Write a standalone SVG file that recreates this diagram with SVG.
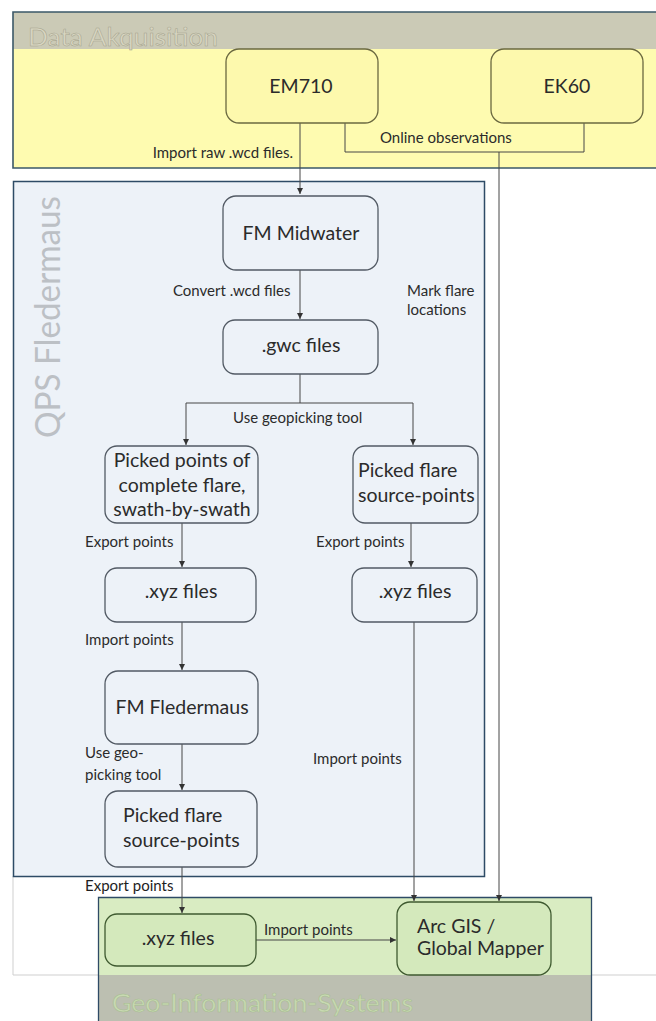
<svg xmlns="http://www.w3.org/2000/svg" width="656" height="1021" viewBox="0 0 656 1021">
<defs>
<style>
.t{font-family:Lato,"Open Sans","Liberation Sans",sans-serif;fill:#2b2b2b;font-size:19.5px}
.m{text-anchor:middle}
.e{text-anchor:end}
.lbl{font-size:15px}
.box{fill:#edf2f8;stroke:#525a64;stroke-width:1.3}
.ybox{fill:#fdf9ad;stroke:#6b6940;stroke-width:1.3}
.gbox{fill:#d4e9bc;stroke:#3f5a30;stroke-width:1.3}
.c{stroke:#474747;stroke-width:1;fill:none}
.title{font-family:Lato,"Open Sans","Liberation Sans",sans-serif;font-size:25px;stroke-width:0.5}
</style>
<marker id="ah" markerUnits="userSpaceOnUse" markerWidth="7" markerHeight="6" refX="6" refY="3" orient="auto">
<path d="M0,0 L6,3 L0,6 z" fill="#333"/>
</marker>
</defs>

<g id="page-frame">
<path d="M13,876 V975 H656" fill="none" stroke="#cfcfcf" stroke-width="1"/>
</g>

<g id="data-akquisition">
<rect x="13" y="12" width="650" height="37" fill="#cbcab6"/>
<rect x="13" y="49" width="650" height="119" fill="#fefbb0"/>
<path d="M656,12 H13 V168 H656" fill="none" stroke="#3b5868" stroke-width="1.6"/>
<text class="title" x="28" y="46" textLength="190" lengthAdjust="spacingAndGlyphs" fill="#d8d6c2" stroke="#a4a28c">Data Akquisition</text>
</g>

<g id="qps-fledermaus">
<rect x="13.5" y="181.5" width="471" height="695" fill="#edf2f8" stroke="#2e4b66" stroke-width="1.5"/>
<text class="title" transform="translate(60,438) rotate(-90)" textLength="242" lengthAdjust="spacingAndGlyphs" fill="#bcc0c5" stroke="none" style="font-size:34px">QPS Fledermaus</text>
</g>

<g id="geo-information-systems">
<rect x="98" y="897" width="494" height="78" fill="#d9ecc2"/>
<rect x="98" y="975" width="494" height="46" fill="#bcbfb1"/>
<path d="M98.5,1021 V897.5 H591.5 V1021" fill="none" stroke="#2e4b66" stroke-width="1.3"/>
<text class="title" x="112" y="1012" textLength="301" lengthAdjust="spacingAndGlyphs" fill="#c8d9b2" stroke="#a6bd90">Geo-Information-Systems</text>
</g>

<g id="connectors">
<path class="c" d="M300,123 V194" marker-end="url(#ah)"/>
<path class="c" d="M300,270 V319" marker-end="url(#ah)"/>
<path class="c" d="M300,374 V403 M186,403 H413"/>
<path class="c" d="M186,403 V445" marker-end="url(#ah)"/>
<path class="c" d="M413,403 V445" marker-end="url(#ah)"/>
<path class="c" d="M182,523 V567" marker-end="url(#ah)"/>
<path class="c" d="M411,523 V567" marker-end="url(#ah)"/>
<path class="c" d="M182,622 V670" marker-end="url(#ah)"/>
<path class="c" d="M182,744 V790" marker-end="url(#ah)"/>
<path class="c" d="M182,867 V913" marker-end="url(#ah)"/>
<path class="c" d="M256,940 H396" marker-end="url(#ah)"/>
<path class="c" d="M414,622 V901" stroke="#6a6a6a" marker-end="url(#ah)"/>
<path class="c" d="M345,123 V152 H584 V123" stroke="#b4b288"/>
<path class="c" d="M499,152 V901" stroke="#8a8a8a" marker-end="url(#ah)"/>
<text class="t lbl e" x="293" y="158">Import raw .wcd files.</text>
<text class="t lbl" x="380" y="143">Online observations</text>
<text class="t lbl" x="173" y="296">Convert .wcd files</text>
<text class="t lbl" x="407" y="296">Mark flare</text>
<text class="t lbl" x="407" y="315">locations</text>
<text class="t lbl" x="233" y="423">Use geopicking tool</text>
<text class="t lbl" x="85" y="547">Export points</text>
<text class="t lbl" x="316" y="547">Export points</text>
<text class="t lbl" x="85" y="645">Import points</text>
<text class="t lbl" x="85" y="758">Use geo-</text>
<text class="t lbl" x="85" y="780">picking tool</text>
<text class="t lbl" x="313" y="764">Import points</text>
<text class="t lbl" x="85" y="891" style="fill:#1e1e1e">Export points</text>
<text class="t lbl" x="264" y="935">Import points</text>
</g>

<g id="em710">
<rect class="ybox" x="226" y="49" width="152" height="74" rx="13"/>
<text class="t m" x="301" y="93">EM710</text>
</g>
<g id="ek60">
<rect class="ybox" x="491" y="49" width="152" height="74" rx="13"/>
<text class="t m" x="567" y="93">EK60</text>
</g>
<g id="fm-midwater">
<rect class="box" x="223" y="196" width="155" height="74" rx="13"/>
<text class="t m" x="301" y="240">FM Midwater</text>
</g>
<g id="gwc-files">
<rect class="box" x="223" y="320" width="155" height="54" rx="12"/>
<text class="t m" x="301" y="352">.gwc files</text>
</g>
<g id="picked-points-complete">
<rect class="box" x="105" y="446" width="153" height="77" rx="12"/>
<text class="t m" x="182" y="467">Picked points of</text>
<text class="t m" x="182" y="492">complete flare,</text>
<text class="t m" x="182" y="516">swath-by-swath</text>
</g>
<g id="picked-flare-source-1">
<rect class="box" x="353" y="446" width="125" height="77" rx="12"/>
<text class="t" x="358" y="477">Picked flare</text>
<text class="t" x="358" y="502">source-points</text>
</g>
<g id="xyz-left">
<rect class="box" x="105" y="568" width="151" height="54" rx="12"/>
<text class="t m" x="181" y="598">.xyz files</text>
</g>
<g id="xyz-right">
<rect class="box" x="352" y="568" width="125" height="54" rx="12"/>
<text class="t m" x="415" y="598">.xyz files</text>
</g>
<g id="fm-fledermaus">
<rect class="box" x="105" y="671" width="153" height="73" rx="13"/>
<text class="t m" x="182" y="714">FM Fledermaus</text>
</g>
<g id="picked-flare-source-2">
<rect class="box" x="105" y="791" width="152" height="76" rx="13"/>
<text class="t" x="123" y="822">Picked flare</text>
<text class="t" x="123" y="847">source-points</text>
</g>
<g id="xyz-gis">
<rect class="gbox" x="105" y="914" width="151" height="52" rx="12"/>
<text class="t m" x="178" y="945">.xyz files</text>
</g>
<g id="arcgis">
<rect class="gbox" x="397" y="902" width="154" height="73" rx="13"/>
<text class="t" x="417" y="933">Arc GIS /</text>
<text class="t" x="417" y="955">Global Mapper</text>
</g>
</svg>
